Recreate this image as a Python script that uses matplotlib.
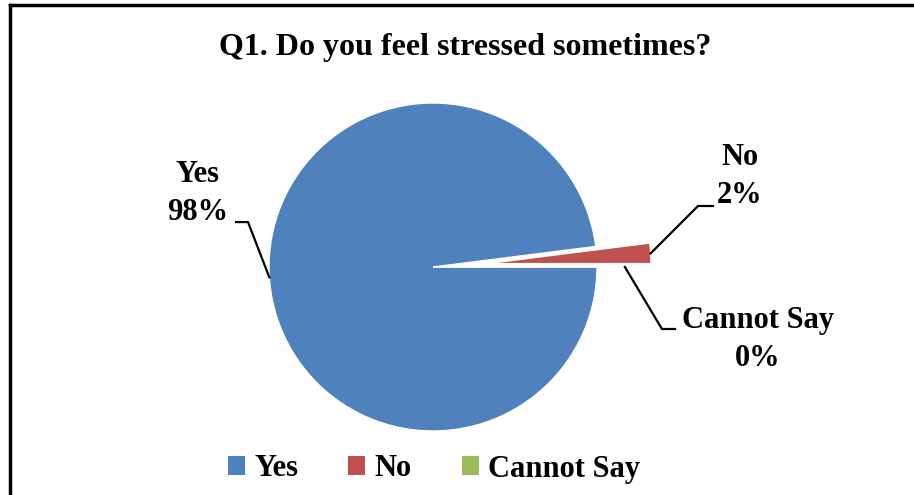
import matplotlib
matplotlib.use("Agg")
import matplotlib.pyplot as plt
import numpy as np
from matplotlib.patches import Patch
from matplotlib.lines import Line2D

#%% data
categories = ['Yes', 'No', 'Cannot Say']
shares = [98, 2, 0]
colors = ['#4F81BD', '#C0504D', '#9BBB59']
explode = [0, 0.33, 0]
title = 'Q1. Do you feel stressed sometimes?'

plt.rcParams['font.family'] = ['Liberation Serif', 'DejaVu Serif']
plt.rcParams['font.weight'] = 'bold'

W, H = 914, 495
fig = plt.figure(figsize=(W / 100, H / 100), dpi=100)

# pie axes: center (433, 267) px, radius 164 px
cx, cy, R = 433, 267, 164
ax = fig.add_axes([(cx - R) / W, (H - cy - R) / H, 2 * R / W, 2 * R / H])
wedges, _ = ax.pie(shares, colors=colors, explode=explode, startangle=0,
                   counterclock=False, radius=1,
                   wedgeprops=dict(edgecolor='white', linewidth=1.0))
for w in wedges:
    w.set_clip_on(False)
ax.set_xlim(-1, 1)
ax.set_ylim(-1, 1)
ax.set_aspect('auto')
ax.axis('off')

#%% labels with leader lines
# (anchor radius, elbow xy, end x, text xy) per slice
layout = {
    'Yes': (1.0, (-1.128, 0.274), -1.201, (-1.433, 0.45)),
    'No': (1.0, (1.616, 0.372), 1.707, (1.872, 0.55)),
    'Cannot Say': (1.17, (1.396, -0.378), 1.476, (1.982, -0.44)),
}
for w, cat, val in zip(wedges, categories, shares):
    r_anchor, elbow, end_x, txt = layout[cat]
    mid = np.deg2rad((w.theta1 + w.theta2) / 2)
    cxw, cyw = w.center
    ax_ = cxw + r_anchor * np.cos(mid)
    ay_ = cyw + r_anchor * np.sin(mid)
    ax.plot([ax_, elbow[0], end_x], [ay_, elbow[1], elbow[1]],
            color='black', lw=1.6, clip_on=False)
    ax.text(txt[0], txt[1], f'{cat}\n{val}%', ha='center', va='center',
            fontsize=22, fontweight='bold', linespacing=1.4, clip_on=False)

#%% title
fig.text(465 / W, 1 - 48 / H, title, ha='center', va='center',
         fontsize=23, fontweight='bold')

#%% legend
handles = [Patch(facecolor=c, edgecolor='none') for c in colors]
fig.legend(handles, categories, loc='center', bbox_to_anchor=(434 / W, 1 - 469 / H),
           ncol=3, frameon=False, prop={'weight': 'bold', 'size': 22},
           handlelength=0.55, handleheight=0.55, handletextpad=0.3,
           columnspacing=1.65, borderpad=0)

#%% border
fig.add_artist(Line2D([10 / W, 10 / W], [0, 1 - 5 / H], color='black', lw=2.5))
fig.add_artist(Line2D([10 / W, 1], [1 - 5 / H, 1 - 5 / H], color='black', lw=2.5))

fig.savefig('out.png', dpi=100)
